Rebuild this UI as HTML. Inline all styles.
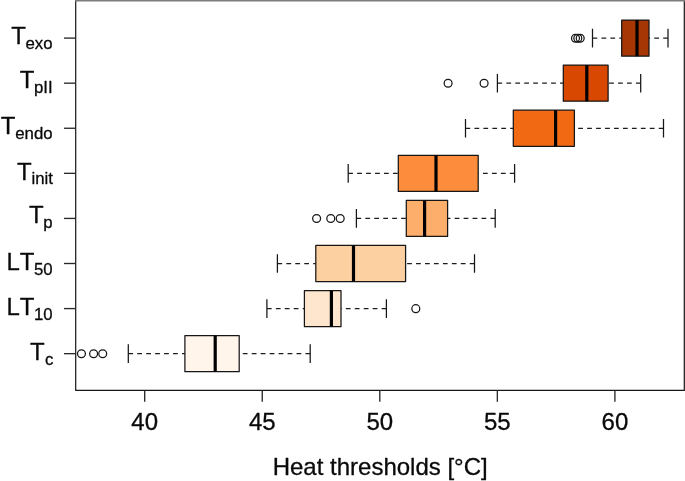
<!DOCTYPE html>
<html lang="en"><head><meta charset="utf-8"><title>Heat thresholds</title>
<style>
html,body{margin:0;padding:0;background:#fff;}
body{width:685px;height:481px;overflow:hidden;}
svg{display:block;}
text{font-family:"Liberation Sans",sans-serif;fill:#0a0a0a;font-kerning:none;stroke:#0a0a0a;stroke-width:0.3px;stroke-linejoin:round;}
.b{font-size:24px;}
.s{font-size:16.8px;}
</style></head><body>
<svg width="685" height="481" viewBox="0 0 685 481">
<rect x="0" y="0" width="685" height="481" fill="#fff"/>

<g stroke="#161616" stroke-width="1.25" stroke-linejoin="round" fill="none">
<rect x="621.7" y="20.05" width="27.30" height="36.10" fill="#A63603"/>
<path d="M592.5 38.1H621.7M668.0 38.1H649.0" stroke-dasharray="4.75 4.2" stroke="#1c1c1c" stroke-width="1.25"/>
<path d="M592.5 28.80V47.40M668.0 28.80V47.40"/>
<path d="M637.0 20.05V56.15" stroke="#000" stroke-width="3.2"/>
<circle cx="575.5" cy="38.20" r="3.95" stroke-width="1.25"/>
<circle cx="577.8" cy="38.20" r="3.95" stroke-width="1.25"/>
<circle cx="580.2" cy="38.20" r="3.95" stroke-width="1.25"/>
</g>
<g stroke="#161616" stroke-width="1.25" stroke-linejoin="round" fill="none">
<rect x="563.3" y="65.13" width="44.80" height="36.10" fill="#D94801"/>
<path d="M497.4 83.18H563.3M640.7 83.18H608.1" stroke-dasharray="4.75 4.2" stroke="#1c1c1c" stroke-width="1.25"/>
<path d="M497.4 73.88V92.48M640.7 73.88V92.48"/>
<path d="M586.8 65.13V101.23" stroke="#000" stroke-width="3.2"/>
<circle cx="448.1" cy="83.28" r="3.95" stroke-width="1.25"/>
<circle cx="484.1" cy="83.28" r="3.95" stroke-width="1.25"/>
</g>
<g stroke="#161616" stroke-width="1.25" stroke-linejoin="round" fill="none">
<rect x="513.3" y="110.21" width="61.10" height="36.10" fill="#F16913"/>
<path d="M465.5 128.26H513.3M663.5 128.26H574.4" stroke-dasharray="4.75 4.2" stroke="#1c1c1c" stroke-width="1.25"/>
<path d="M465.5 118.96V137.56M663.5 118.96V137.56"/>
<path d="M555.6 110.21V146.31" stroke="#000" stroke-width="3.2"/>
</g>
<g stroke="#161616" stroke-width="1.25" stroke-linejoin="round" fill="none">
<rect x="398.3" y="155.29" width="79.90" height="36.10" fill="#FD8D3C"/>
<path d="M348.2 173.34H398.3M514.6 173.34H478.2" stroke-dasharray="4.75 4.2" stroke="#1c1c1c" stroke-width="1.25"/>
<path d="M348.2 164.04V182.64M514.6 164.04V182.64"/>
<path d="M436.0 155.29V191.39" stroke="#000" stroke-width="3.2"/>
</g>
<g stroke="#161616" stroke-width="1.25" stroke-linejoin="round" fill="none">
<rect x="406.3" y="200.37" width="41.30" height="36.10" fill="#FDAE6B"/>
<path d="M356.4 218.42H406.3M495.2 218.42H447.6" stroke-dasharray="4.75 4.2" stroke="#1c1c1c" stroke-width="1.25"/>
<path d="M356.4 209.12V227.72M495.2 209.12V227.72"/>
<path d="M424.6 200.37V236.47" stroke="#000" stroke-width="3.2"/>
<circle cx="316.6" cy="218.52" r="3.95" stroke-width="1.25"/>
<circle cx="330.75" cy="218.52" r="3.95" stroke-width="1.25"/>
<circle cx="340.2" cy="218.52" r="3.95" stroke-width="1.25"/>
</g>
<g stroke="#161616" stroke-width="1.25" stroke-linejoin="round" fill="none">
<rect x="315.8" y="245.45" width="89.80" height="36.10" fill="#FDD0A2"/>
<path d="M277.4 263.5H315.8M474.5 263.5H405.6" stroke-dasharray="4.75 4.2" stroke="#1c1c1c" stroke-width="1.25"/>
<path d="M277.4 254.20V272.80M474.5 254.20V272.80"/>
<path d="M353.5 245.45V281.55" stroke="#000" stroke-width="3.2"/>
</g>
<g stroke="#161616" stroke-width="1.25" stroke-linejoin="round" fill="none">
<rect x="304.4" y="290.53" width="36.60" height="36.10" fill="#FEE6CE"/>
<path d="M266.9 308.58H304.4M386.4 308.58H341.0" stroke-dasharray="4.75 4.2" stroke="#1c1c1c" stroke-width="1.25"/>
<path d="M266.9 299.28V317.88M386.4 299.28V317.88"/>
<path d="M331.4 290.53V326.63" stroke="#000" stroke-width="3.2"/>
<circle cx="415.8" cy="308.68" r="3.95" stroke-width="1.25"/>
</g>
<g stroke="#161616" stroke-width="1.25" stroke-linejoin="round" fill="none">
<rect x="184.9" y="335.61" width="54.30" height="36.10" fill="#FFF5EB"/>
<path d="M128.3 353.66H184.9M310.2 353.66H239.2" stroke-dasharray="4.75 4.2" stroke="#1c1c1c" stroke-width="1.25"/>
<path d="M128.3 344.36V362.96M310.2 344.36V362.96"/>
<path d="M215.2 335.61V371.71" stroke="#000" stroke-width="3.2"/>
<circle cx="81.45" cy="353.76" r="3.95" stroke-width="1.25"/>
<circle cx="93.6" cy="353.76" r="3.95" stroke-width="1.25"/>
<circle cx="102.7" cy="353.76" r="3.95" stroke-width="1.25"/>
</g>
<path d="M75.7 0V390.45H684.3V0" fill="none" stroke="#161616" stroke-width="1.2" stroke-linejoin="round"/>
<path d="M75.10000000000001 0.7H685" fill="none" stroke="#7c7c7c" stroke-width="1.4"/>
<g stroke="#2a2a2a" stroke-width="1.35">
<path d="M64 38.1H75.7"/>
<path d="M64 83.18H75.7"/>
<path d="M64 128.26H75.7"/>
<path d="M64 173.34H75.7"/>
<path d="M64 218.42H75.7"/>
<path d="M64 263.5H75.7"/>
<path d="M64 308.58H75.7"/>
<path d="M64 353.66H75.7"/>
<path d="M144.70 390.45V401.8"/>
<path d="M262.25 390.45V401.8"/>
<path d="M379.80 390.45V401.8"/>
<path d="M497.35 390.45V401.8"/>
<path d="M614.90 390.45V401.8"/>
</g>
<text class="b" x="144.70" y="430.4" text-anchor="middle">40</text>
<text class="b" x="262.25" y="430.4" text-anchor="middle">45</text>
<text class="b" x="379.80" y="430.4" text-anchor="middle">50</text>
<text class="b" x="497.35" y="430.4" text-anchor="middle">55</text>
<text class="b" x="614.90" y="430.4" text-anchor="middle">60</text>
<text class="b" x="25.80" y="44.2" text-anchor="end">T</text>
<text class="s" x="52.60" y="48.9" text-anchor="end">exo</text>
<text class="b" x="34.40" y="88.0" text-anchor="end">T</text>
<text class="s" x="52.60" y="92.7" text-anchor="end">pII</text>
<text class="b" x="15.30" y="134.2" text-anchor="end">T</text>
<text class="s" x="52.60" y="138.9" text-anchor="end">endo</text>
<text class="b" x="31.70" y="179.5" text-anchor="end">T</text>
<text class="s" x="52.90" y="183.9" text-anchor="end">init</text>
<text class="b" x="43.70" y="223.0" text-anchor="end">T</text>
<text class="s" x="52.60" y="227.5" text-anchor="end">p</text>
<text class="b" x="34.40" y="269.8" text-anchor="end">LT</text>
<text class="s" x="52.60" y="274.7" text-anchor="end">50</text>
<text class="b" x="34.40" y="314.8" text-anchor="end">LT</text>
<text class="s" x="52.60" y="319.7" text-anchor="end">10</text>
<text class="b" x="44.70" y="360.0" text-anchor="end">T</text>
<text class="s" x="53.40" y="364.7" text-anchor="end">c</text>
<text class="b" x="380.2" y="475.1" text-anchor="middle">Heat thresholds [°C]</text>
</svg></body></html>
